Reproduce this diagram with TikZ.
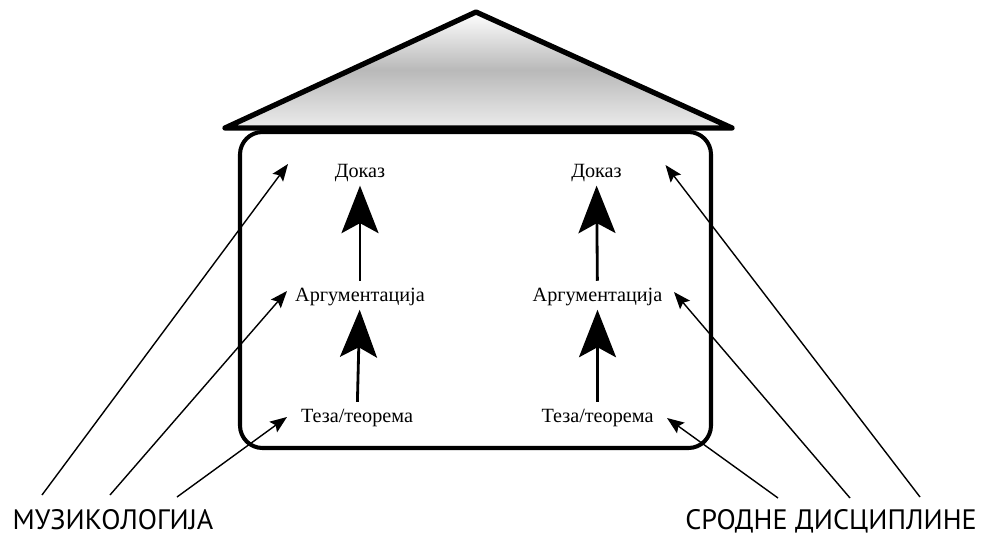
\documentclass[tikz,border=0pt]{standalone}
\usepackage{fontspec}
\setmainfont{Liberation Serif}
\newfontfamily\labelfont{PT Sans}
\usetikzlibrary{positioning, arrows.meta, calc}

\begin{document}
\begin{tikzpicture}[
    >=Stealth,
    % Styles
    roof/.style={draw, line width=3pt, line join=round, top color=white, bottom color=gray!15, middle color=gray!55},
    housebox/.style={draw, line width=2.3pt, rounded corners=0.45cm},
    txt/.style={font=\fontsize{11.5}{13}\selectfont, inner sep=2pt},
    lbl/.style={font=\labelfont\fontsize{16}{18}\selectfont, inner sep=0pt},
    bigarrow/.style={-{Stealth[length=0.95cm, width=0.74cm, inset=0.2cm]}, line width=1.6pt},
    thinarrow/.style={-{Stealth[length=0.34cm, width=0.26cm, inset=0.06cm]}, line width=0.8pt}
]
    \useasboundingbox (0,0) rectangle (19.8,10.7);

    % --- House ---
    \draw [housebox] (4.8,1.74) rectangle (14.22,8.06);
    \draw [roof] (4.5,8.14) -- (9.52,10.46) -- (14.64,8.14) -- cycle;

    % --- Left column ---
    \node [txt] (dokazL) at (7.2,7.24) {Доказ};
    \node [txt] (argL) at (7.2,4.76) {Аргументација};
    \node [txt] (tezaL) at (7.14,2.34) {Теза/теорема};

    % --- Right column ---
    \node [txt] (dokazR) at (11.93,7.24) {Доказ};
    \node [txt] (argR) at (11.95,4.76) {Аргументација};
    \node [txt] (tezaR) at (11.95,2.34) {Теза/теорема};

    % --- Sources ---
    \node [lbl] (muz) at (2.26,0.3) {МУЗИКОЛОГИЈА};
    \node [lbl] (srod) at (16.62,0.28) {СРОДНЕ ДИСЦИПЛИНЕ};

    \coordinate (m1) at (0.84,0.8);
    \coordinate (m2) at (2.2,0.8);
    \coordinate (m3) at (3.54,0.76);
    \coordinate (s1) at (15.56,0.74);
    \coordinate (s2) at (17.0,0.74);
    \coordinate (s3) at (18.4,0.76);

    % --- Connections ---
    \draw [bigarrow, shorten <=2pt] (argL) -- (dokazL);
    \draw [bigarrow, shorten <=2pt] (tezaL) -- (argL);
    \draw [bigarrow, shorten <=2pt] (argR) -- (dokazR);
    \draw [bigarrow, shorten <=2pt] (tezaR) -- (argR);

    % From musicology
    \draw [thinarrow] (m1) -- ($(dokazL)+(-1.44,0.18)$);
    \draw [thinarrow] (m2) -- ($(argL)+(-1.46,0.12)$);
    \draw [thinarrow] (m3) -- ($(tezaL)+(-1.4,0.02)$);

    % From related disciplines
    \draw [thinarrow] (s1) -- ($(tezaR)+(1.39,0)$);
    \draw [thinarrow] (s2) -- ($(argR)+(1.53,0.1)$);
    \draw [thinarrow] (s3) -- ($(dokazR)+(1.38,0.16)$);

\end{tikzpicture}
\end{document}
